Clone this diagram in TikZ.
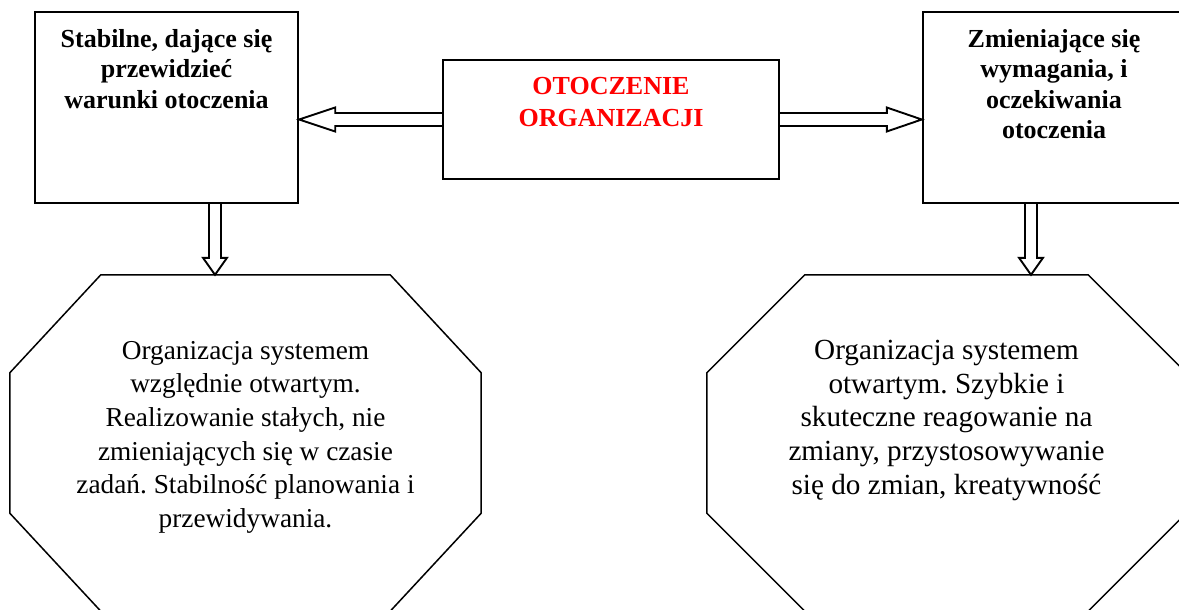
\documentclass[tikz,border=0pt]{standalone}
\usepackage{fontspec}
\setmainfont{Liberation Serif}
\usetikzlibrary{calc}
\frenchspacing
\begin{document}
\begin{tikzpicture}[x=1pt,y=-1pt,
  box/.style={draw, line width=2.4pt, inner sep=0pt, minimum height=191pt},
  midbox/.style={draw, line width=2.4pt, inner sep=0pt, minimum width=336pt, minimum height=119pt},
  octframe/.style={draw=none, inner sep=0pt, minimum height=336pt},
  oct/.style={draw, line width=1.5pt, line join=miter},
  blk/.style={draw, line width=1.9pt, line join=miter},
  btxt/.style={font=\fontsize{26}{30.5}\selectfont\bfseries, align=center, inner sep=0pt, anchor=north},
  rtxt/.style={font=\fontsize{26}{32}\selectfont\bfseries, text=red, align=center, inner sep=0pt, anchor=north},
  otxtL/.style={font=\fontsize{27.3}{33.6}\selectfont, align=center, inner sep=0pt, anchor=north},
  otxtR/.style={font=\fontsize{29.2}{33.7}\selectfont, align=center, inner sep=0pt, anchor=north}]
\useasboundingbox (0,0) rectangle (1179,610);
\clip (0,0) rectangle (1179,610);

% boxes
\node[box, minimum width=263pt] (stab) at (166.5,107.5) {};
\node[midbox] (mid) at (611,119.5) {};
\node[box, minimum width=262pt] (zmien) at (1054,107.5) {};

\node[btxt] (stabT) at (166.5,29) {Stabilne, dające się\\przewidzieć\\warunki otoczenia};
\node[rtxt] (midT) at (611,77) {OTOCZENIE\\ORGANIZACJI};
\node[btxt] (zmienT) at (1054,29) {Zmieniające się\\wymagania, i\\oczekiwania\\otoczenia};

% octagons
\node[octframe, minimum width=471pt] (octL) at (245.5,443) {};
\node[octframe, minimum width=479pt] (octR) at (946.5,443) {};
\draw[oct] ($(octL.north west)+(91,0)$) -- ($(octL.north east)+(-91,0)$)
  -- ($(octL.north east)+(0,98)$) -- ($(octL.south east)+(0,-98)$)
  -- ($(octL.south east)+(-91,0)$) -- ($(octL.south west)+(91,0)$)
  -- ($(octL.south west)+(0,-98)$) -- ($(octL.north west)+(0,98)$) -- cycle;
\draw[oct] ($(octR.north west)+(98,0)$) -- ($(octR.north east)+(-98,0)$)
  -- ($(octR.north east)+(0,98)$) -- ($(octR.south east)+(0,-98)$)
  -- ($(octR.south east)+(-98,0)$) -- ($(octR.south west)+(98,0)$)
  -- ($(octR.south west)+(0,-98)$) -- ($(octR.north west)+(0,98)$) -- cycle;

\node[otxtL] (octLT) at (245.5,341) {Organizacja systemem\\względnie otwartym.\\Realizowanie stałych, nie\\zmieniających się w czasie\\zadań. Stabilność planowania i\\przewidywania.};
\node[otxtR] (octRT) at (946.5,340) {Organizacja systemem\\otwartym. Szybkie i\\skuteczne reagowanie na\\zmiany, przystosowywanie\\się do zmian, kreatywność};

% horizontal block arrows
\coordinate (tipL) at (stab.east |- mid.west);
\draw[blk] ($(mid.west)+(0,-6.5)$) -- ($(tipL)+(36,-6.5)$) -- ($(tipL)+(36,-12)$)
  -- (tipL) -- ($(tipL)+(36,12)$) -- ($(tipL)+(36,6.5)$) -- ($(mid.west)+(0,6.5)$);
\coordinate (tipR) at (zmien.west |- mid.east);
\draw[blk] ($(mid.east)+(0,-6.5)$) -- ($(tipR)+(-35,-6.5)$) -- ($(tipR)+(-35,-12)$)
  -- (tipR) -- ($(tipR)+(-35,12)$) -- ($(tipR)+(-35,6.5)$) -- ($(mid.east)+(0,6.5)$);

% vertical block arrows
\coordinate (srcL) at ($(stab.south)+(48.5,0)$);
\coordinate (tipDL) at (srcL |- octL.north);
\draw[blk] ($(srcL)+(-6,0)$) -- ($(tipDL)+(-6,-17)$) -- ($(tipDL)+(-12,-17)$)
  -- (tipDL) -- ($(tipDL)+(12,-17)$) -- ($(tipDL)+(6,-17)$) -- ($(srcL)+(6,0)$);
\coordinate (srcR) at ($(zmien.south)+(-23,0)$);
\coordinate (tipDR) at (srcR |- octR.north);
\draw[blk] ($(srcR)+(-6,0)$) -- ($(tipDR)+(-6,-17)$) -- ($(tipDR)+(-12,-17)$)
  -- (tipDR) -- ($(tipDR)+(12,-17)$) -- ($(tipDR)+(6,-17)$) -- ($(srcR)+(6,0)$);
\end{tikzpicture}
\end{document}
